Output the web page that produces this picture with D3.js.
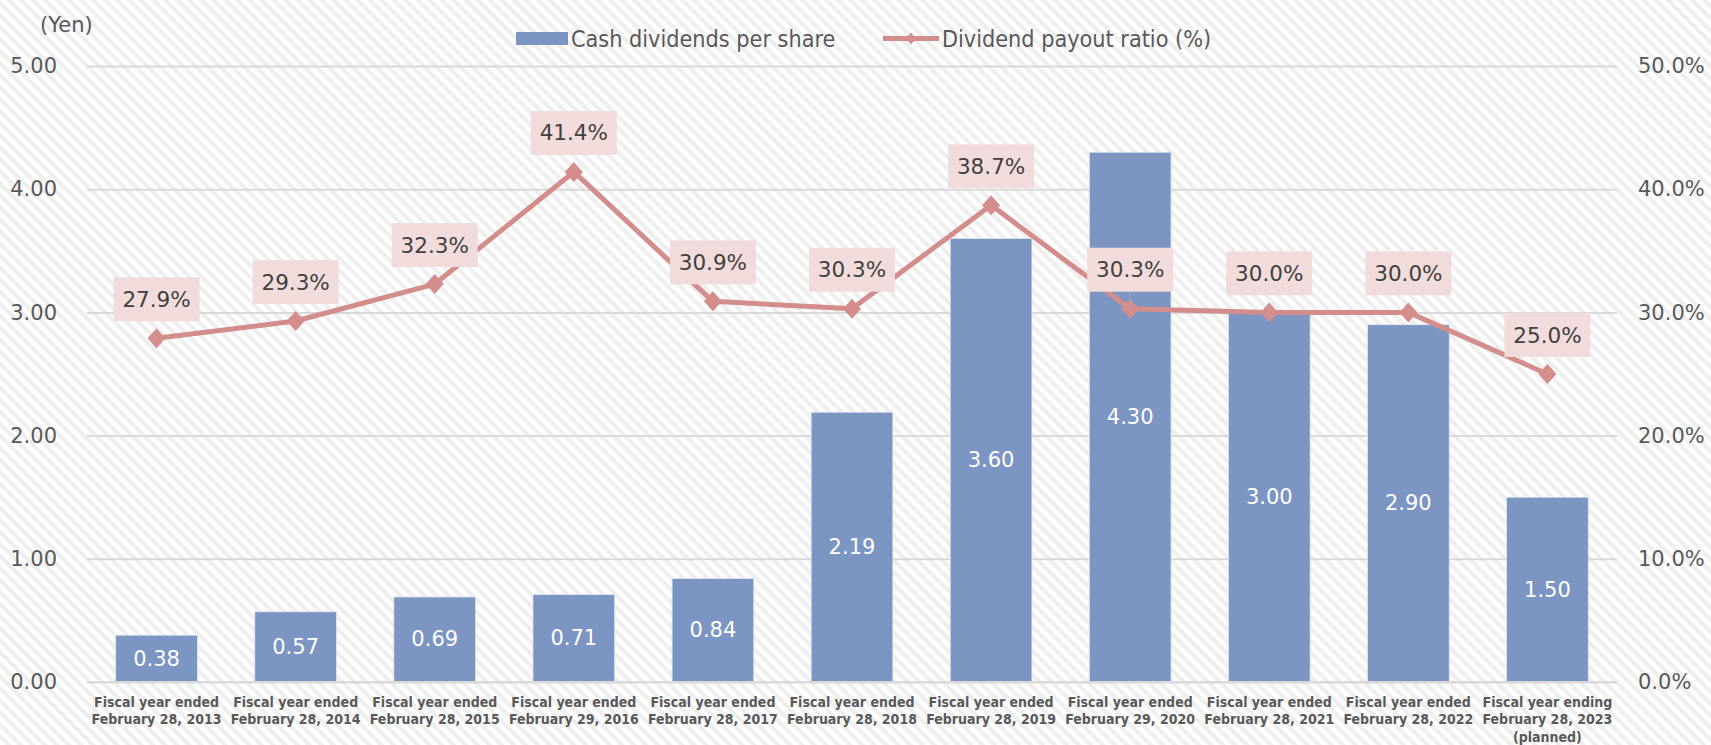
<!DOCTYPE html>
<html>
<head>
<meta charset="utf-8">
<script src="https://cdn.jsdelivr.net/npm/d3@7"></script>
<style>
  html, body { margin: 0; padding: 0; background: #ffffff; }
  svg { display: block; }
  .tick-label { font-family: "DejaVu Sans", Verdana, sans-serif; font-size: 21px; fill: #595959; }
  .cat-label { font-family: "DejaVu Sans Condensed", "DejaVu Sans", sans-serif; font-stretch: condensed; font-weight: bold; font-size: 14px; fill: #595959; }
  .legend-label { font-family: "DejaVu Sans Condensed", "DejaVu Sans", sans-serif; font-stretch: condensed; font-size: 23.2px; fill: #595959; }
</style>
</head>
<body>
<script>
// Fiscal years (each label is two or three lines, split on "|")
const categories = [
  "Fiscal year ended|February 28, 2013",
  "Fiscal year ended|February 28, 2014",
  "Fiscal year ended|February 28, 2015",
  "Fiscal year ended|February 29, 2016",
  "Fiscal year ended|February 28, 2017",
  "Fiscal year ended|February 28, 2018",
  "Fiscal year ended|February 28, 2019",
  "Fiscal year ended|February 29, 2020",
  "Fiscal year ended|February 28, 2021",
  "Fiscal year ended|February 28, 2022",
  "Fiscal year ending|February 28, 2023|(planned)"
];
// Cash dividends per share (yen)
const dividends = [0.38, 0.57, 0.69, 0.71, 0.84, 2.19, 3.60, 4.30, 3.00, 2.90, 1.50];
// Dividend payout ratio (%)
const payoutRatio = [27.9, 29.3, 32.3, 41.4, 30.9, 30.3, 38.7, 30.3, 30.0, 30.0, 25.0];
// Axis ticks
const yenTicks = [0, 1, 2, 3, 4, 5];
const ratioTicks = [0, 10, 20, 30, 40, 50];
const seriesNames = ["Cash dividends per share", "Dividend payout ratio (%)"];

const W = 1711, H = 745;
const plot = { left: 87, right: 1617, top: 66, bottom: 682 };
const barColor = "#7c95c3";
const lineColor = "#d38d8b";
const boxColor = "#f2dcdb";
const textDark = "#404040";

const svg = d3.select("body").append("svg").attr("width", W).attr("height", H);

// striped background
const defs = svg.append("defs");
const pat = defs.append("pattern")
  .attr("id", "stripes").attr("patternUnits", "userSpaceOnUse")
  .attr("width", 8.5).attr("height", 8.5)
  .attr("patternTransform", "rotate(45)");
pat.append("rect").attr("width", 8.5).attr("height", 8.5).attr("fill", "#ffffff");
pat.append("rect").attr("width", 8.5).attr("height", 4.25).attr("fill", "#efefef");
svg.append("rect").attr("width", W).attr("height", H).attr("fill", "url(#stripes)");

// scales
const pad = 0.4126;
const x = d3.scaleBand().domain(categories).range([plot.left, plot.right])
  .paddingInner(pad).paddingOuter(pad / 2);
const yL = d3.scaleLinear().domain([0, 5]).range([plot.bottom, plot.top]);
const yR = d3.scaleLinear().domain([0, 50]).range([plot.bottom, plot.top]);
const cx = c => x(c) + x.bandwidth() / 2;

// gridlines
const grid = svg.append("g").attr("transform", `translate(${plot.left},0)`)
  .call(d3.axisLeft(yL).tickValues(yenTicks).tickSize(-(plot.right - plot.left)).tickFormat(""));
grid.select(".domain").remove();
grid.selectAll(".tick line").attr("stroke", "#d9d9d9").attr("stroke-width", 2);

// left axis labels
const axL = svg.append("g").attr("transform", `translate(${plot.left},0)`)
  .call(d3.axisLeft(yL).tickValues(yenTicks).tickSize(0).tickPadding(30).tickFormat(d3.format(".2f")));
axL.select(".domain").remove();
axL.selectAll("text").attr("class", "tick-label").attr("font-family", null).attr("font-size", null).attr("fill", null);

// right axis labels
const axR = svg.append("g").attr("transform", `translate(${plot.right},0)`)
  .call(d3.axisRight(yR).tickValues(ratioTicks).tickSize(0).tickPadding(21).tickFormat(d => d.toFixed(1) + "%"));
axR.select(".domain").remove();
axR.selectAll("text").attr("class", "tick-label").attr("font-family", null).attr("font-size", null).attr("fill", null);

// unit label
svg.append("text").attr("class", "tick-label").attr("x", 40).attr("y", 25)
  .attr("dominant-baseline", "central").text("(Yen)");

// category axis
const axB = svg.append("g").attr("transform", `translate(0,${plot.bottom})`)
  .call(d3.axisBottom(x).tickSize(0).tickPadding(0));
axB.select(".domain").remove();
axB.selectAll(".tick text").each(function (d) {
  const t = d3.select(this).text(null)
    .attr("class", "cat-label").attr("font-family", null).attr("font-size", null).attr("fill", null)
    .attr("y", 0).attr("dy", null).attr("text-anchor", "middle");
  d.split("|").forEach((line, i) => {
    t.append("tspan").attr("x", 0).attr("y", 24.7 + i * 17.5).text(line);
  });
});

// bars
svg.append("g").selectAll("rect").data(dividends).join("rect")
  .attr("x", (d, i) => x(categories[i]))
  .attr("width", x.bandwidth())
  .attr("y", d => yL(d))
  .attr("height", d => yL(0) - yL(d))
  .attr("fill", barColor)
  .attr("stroke", "#dfe6f2").attr("stroke-width", 0.8);

// baseline
svg.append("line").attr("x1", plot.left).attr("x2", plot.right)
  .attr("y1", plot.bottom).attr("y2", plot.bottom)
  .attr("stroke", "#d9d9d9").attr("stroke-width", 2);

// bar value labels
svg.append("g").selectAll("text").data(dividends).join("text")
  .attr("class", "tick-label")
  .attr("x", (d, i) => cx(categories[i]))
  .attr("y", d => (yL(d) + yL(0)) / 2)
  .attr("text-anchor", "middle").attr("dominant-baseline", "central")
  .style("fill", "#ffffff")
  .text(d => d.toFixed(2));

// payout ratio line
const linePts = payoutRatio.map((v, i) => [cx(categories[i]), yR(v)]);
svg.append("path").attr("d", d3.line()(linePts))
  .attr("fill", "none").attr("stroke", lineColor).attr("stroke-width", 5)
  .attr("stroke-linejoin", "round");

const diamond = "M0,-10 L9,0 L0,10 L-9,0 Z";
svg.append("g").selectAll("path").data(payoutRatio).join("path")
  .attr("d", diamond)
  .attr("transform", (v, i) => `translate(${cx(categories[i])},${yR(v)})`)
  .attr("fill", lineColor);

// ratio labels in boxes above the points
const boxW = 86, boxH = 44, boxLift = 39;
const lbl = svg.append("g").selectAll("g").data(payoutRatio).join("g")
  .attr("transform", (v, i) => `translate(${cx(categories[i])},${yR(v) - boxLift})`);
// leader line where the box sits over its point
lbl.filter((v, i) => i === 7).append("line")
  .attr("x1", 0).attr("x2", 0).attr("y1", boxH / 2).attr("y2", boxLift)
  .attr("stroke", "#a6a6a6").attr("stroke-width", 1.2);
lbl.append("rect").attr("x", -boxW / 2).attr("y", -boxH / 2)
  .attr("width", boxW).attr("height", boxH).attr("fill", boxColor);
lbl.append("text").attr("class", "tick-label")
  .attr("text-anchor", "middle").attr("dominant-baseline", "central")
  .style("fill", textDark).style("font-size", "21.5px")
  .text(v => v.toFixed(1) + "%");

// legend
const leg = svg.append("g");
leg.append("rect").attr("x", 516).attr("y", 32).attr("width", 52).attr("height", 13).attr("fill", barColor);
leg.append("text").attr("class", "legend-label").attr("x", 571).attr("y", 38.5)
  .attr("dominant-baseline", "central").text(seriesNames[0]);
leg.append("line").attr("x1", 883).attr("x2", 939).attr("y1", 38.5).attr("y2", 38.5)
  .attr("stroke", lineColor).attr("stroke-width", 5);
leg.append("path").attr("d", "M0,-6 L5,0 L0,6 L-5,0 Z")
  .attr("transform", "translate(911,38.5)").attr("fill", lineColor);
leg.append("text").attr("class", "legend-label").attr("x", 942).attr("y", 38.5)
  .attr("dominant-baseline", "central").text(seriesNames[1]);
</script>
</body>
</html>
